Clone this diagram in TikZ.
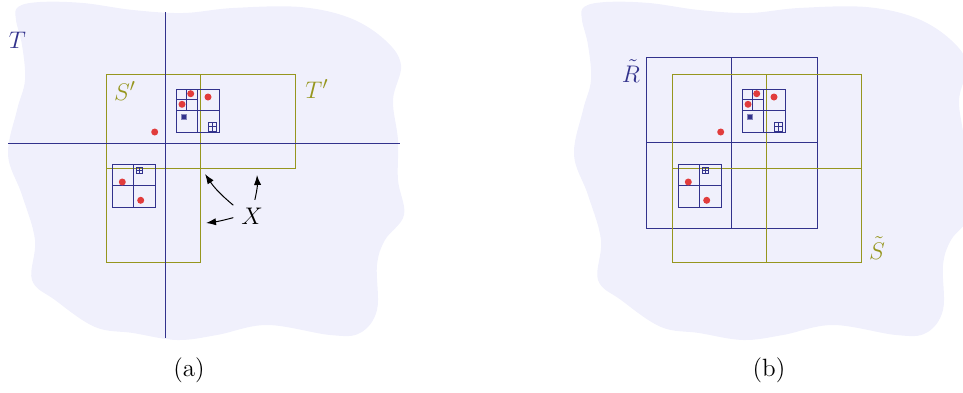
\documentclass[tikz,border=0pt]{standalone}
\usetikzlibrary{arrows.meta}
\definecolor{navy}{RGB}{50,50,140}
\definecolor{oliv}{RGB}{150,150,30}
\definecolor{dotred}{RGB}{225,60,60}
\definecolor{blobfill}{RGB}{240,240,252}
\begin{document}
\begin{tikzpicture}[x=0.5pt,y=-0.5pt,
  navyline/.style={draw=navy,line width=0.5pt},
  fineline/.style={draw=navy,line width=0.35pt},
  oliveline/.style={draw=oliv,line width=0.5pt},
  reddot/.style={fill=dotred},
  lbl/.style={font=\fontsize{12.5}{15}\selectfont, inner sep=0pt},
  arr/.style={-{Latex[length=5pt,width=3.6pt]}, line width=0.5pt, black},
  blob/.pic={\fill[blobfill] plot[smooth cycle, tension=0.6] coordinates {
      (18,7) (40,2) (83,3) (133,10) (183,13) (233,8) (300,7) (350,18) (385,40)
      (401,65) (393,100) (398,140) (398,180) (404,215) (385,240) (377,265)
      (377,310) (360,333) (330,335) (267,325) (217,335) (177,340) (133,333)
      (95,327) (55,300) (32,280) (35,240) (22,195) (8,155) (17,110) (25,80)
      (22,45) (16,20)};},
  clusters/.pic={
    % upper cluster
    \draw[navyline] (176,89) rectangle (219,132);
    \draw[navyline] (197.5,89) -- (197.5,132) (176,110.5) -- (219,110.5);
    \draw[navyline] (186.75,89) -- (186.75,110.5) (176,99.75) -- (197.5,99.75);
    \draw[fineline] (208.3,122.7) rectangle (216.5,130.9);
    \draw[fineline] (212.4,122.7) -- (212.4,130.9) (208.3,126.8) -- (216.5,126.8);
    \fill[navy, draw=navy!60, line width=0.3pt] (181.7,114.5) rectangle (186,118.8);
    \fill[reddot] (190.7,93.7) circle[radius=3.5];
    \fill[reddot] (182,104.3) circle[radius=3.5];
    \fill[reddot] (208,97) circle[radius=3.5];
    \fill[reddot] (154.7,132) circle[radius=3.5];
    % lower cluster
    \draw[navyline] (112,164) rectangle (155,207);
    \draw[navyline] (133.5,164) -- (133.5,207) (112,185.5) -- (155,185.5);
    \draw[fineline] (136,167) rectangle (142.6,173.6);
    \draw[fineline] (139.3,167) -- (139.3,173.6) (136,170.3) -- (142.6,170.3);
    \fill[reddot] (122.3,182) circle[radius=3.5];
    \fill[reddot] (140.7,200.3) circle[radius=3.5];
  }]
\useasboundingbox (0,0) rectangle (963,392);

% ---------- panel (a)
\pic at (0,0) {blob};
\draw[oliveline] (106.5,74) rectangle (200.75,168.25);
\draw[oliveline] (200.75,74) rectangle (295,168.25);
\draw[oliveline] (106.5,168.25) rectangle (200.75,262.5);
\draw[navyline] (165,12) -- (165,338);
\draw[navyline] (8,143) -- (400,143);
\pic at (0,0) {clusters};
\node[lbl, text=navy] (T) at (17.5,40.5) {$T$};
\node[lbl, text=oliv] (Sp) at (125,91) {$S'$};
\node[lbl, text=oliv] (Tp) at (317,89) {$T'$};
\node[lbl, outer sep=4pt] (X) at (252,216) {$X$};
\coordinate (t1) at (205,174);
\coordinate (t2) at (257,175);
\coordinate (t3) at (206,223);
\draw[arr] (X.150) to[bend left=8] (t1);
\draw[arr] (X.80) to[bend right=8] (t2);
\draw[arr] (X.185) to[bend left=4] (t3);
\node[lbl] (capa) at (189,370) {(a)};

% ---------- panel (b)
\begin{scope}[xshift=283pt]
\pic at (0,0) {blob};
\draw[navyline] (80,57) rectangle (251,228);
\draw[navyline] (165.5,57) -- (165.5,228) (80,142.5) -- (251,142.5);
\draw[oliveline] (106.5,74) rectangle (295,262.5);
\draw[oliveline] (200.75,74) -- (200.75,262.5) (106.5,168.25) -- (295,168.25);
\pic at (0,0) {clusters};
\node[lbl, text=navy] (Rt) at (65,71) {$\tilde{R}$};
\node[lbl, text=oliv] (St) at (311,248) {$\tilde{S}$};
\node[lbl] (capb) at (203,370) {(b)};
\end{scope}
\end{tikzpicture}
\end{document}
